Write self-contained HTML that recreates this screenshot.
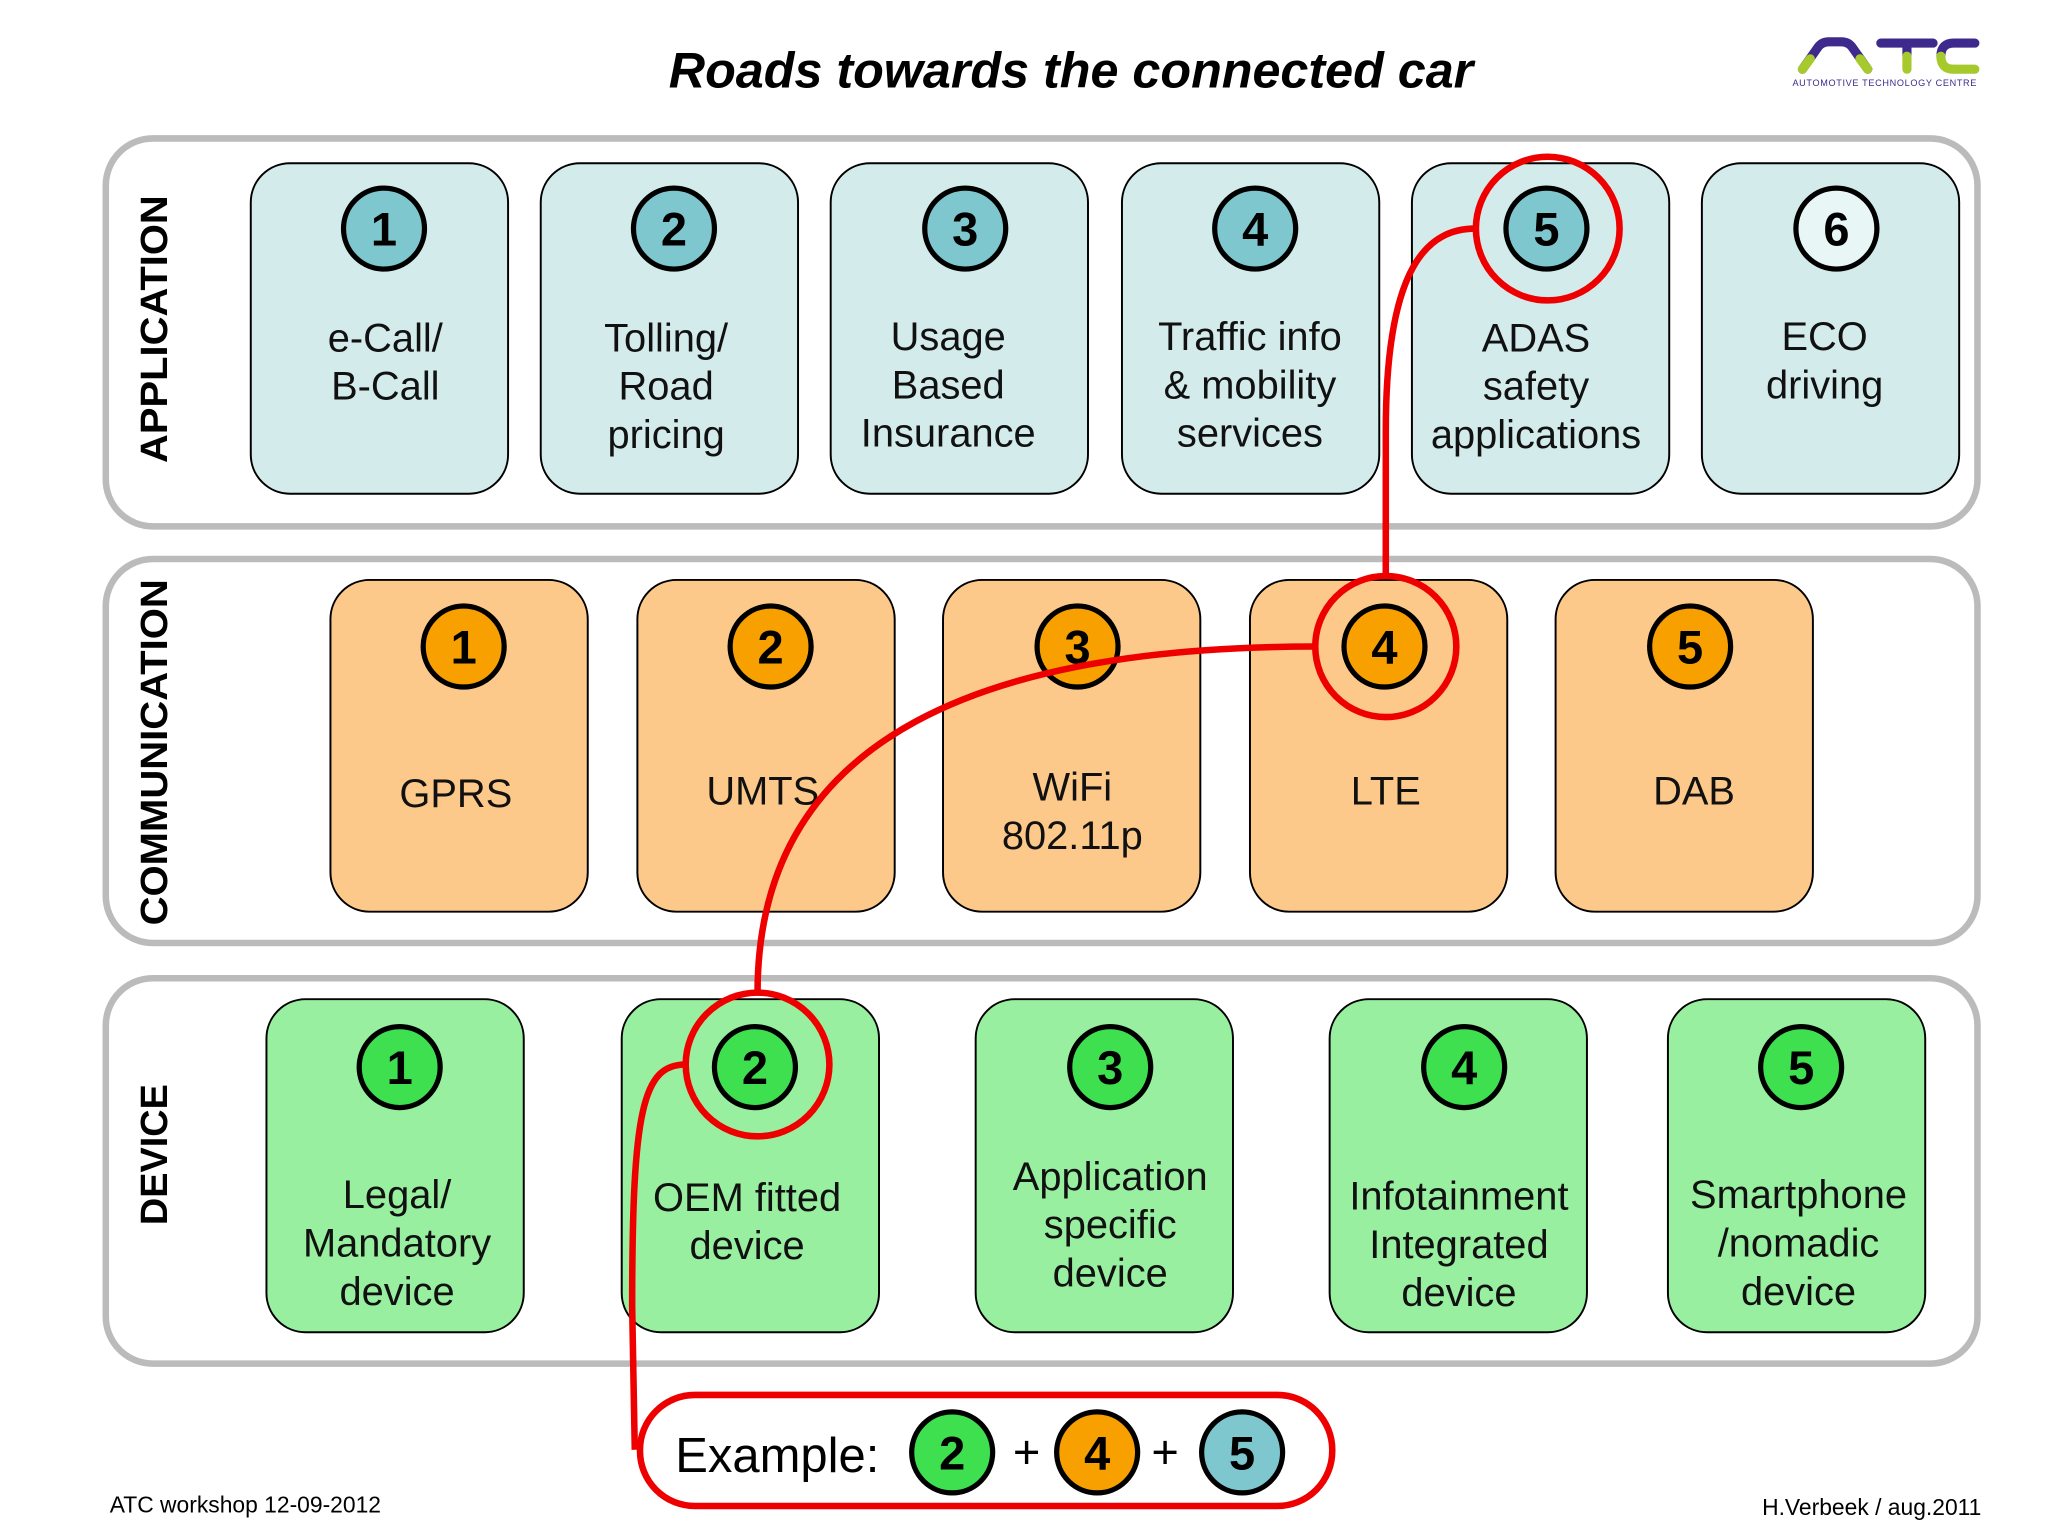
<!DOCTYPE html>
<html><head><meta charset="utf-8"><style>html,body{margin:0;padding:0;background:#fff}svg{display:block}</style></head>
<body>
<svg width="2048" height="1536" viewBox="0 0 1568 1176" xmlns="http://www.w3.org/2000/svg" font-family="Liberation Sans, Arial, sans-serif">
<rect width="1568" height="1176" fill="#fff"/>
<text x="820" y="67" text-anchor="middle" font-size="38.5" font-weight="bold" font-style="italic">Roads towards the connected car</text>
<!-- logo -->
<g stroke-width="7" fill="none" stroke-linecap="round">
<path d="M1380,53 L1392,36 Q1395,32 1400,32 L1410,32 Q1415,32 1418,36 L1430,53" stroke="#3d2a8c"/>
<path d="M1380,53 L1386,45 M1430,53 L1424,45" stroke="#a6c92c"/>
<path d="M1440,33 L1480,33 M1460,33 L1460,43" stroke="#3d2a8c"/>
<path d="M1460,43 L1460,53" stroke="#a6c92c"/>
<path d="M1512,33 L1496,33 Q1486,33 1486,43" stroke="#3d2a8c"/>
<path d="M1486,43 Q1486,53 1496,53 L1512,53" stroke="#a6c92c"/>
</g>
<text x="1443" y="66" text-anchor="middle" font-size="7" fill="#3d2a8c" letter-spacing="0.5">AUTOMOTIVE TECHNOLOGY CENTRE</text>

<g fill="#fff" stroke="#bbbbbb" stroke-width="5">
<rect x="81" y="106" width="1433" height="297" rx="36"/>
<rect x="81" y="428" width="1433" height="294" rx="36"/>
<rect x="81" y="749" width="1433" height="295" rx="36"/>
</g>
<g font-size="29" font-weight="bold">
<text transform="translate(128,252) rotate(-90)" text-anchor="middle" textLength="205" lengthAdjust="spacingAndGlyphs">APPLICATION</text>
<text transform="translate(128,576) rotate(-90)" text-anchor="middle" textLength="265" lengthAdjust="spacingAndGlyphs">COMMUNICATION</text>
<text transform="translate(128,884) rotate(-90)" text-anchor="middle">DEVICE</text>
</g>

<g stroke="#000" stroke-width="1.5">
<g fill="#d3ebeb">
<rect x="192" y="125" width="197" height="253" rx="30"/>
<rect x="414" y="125" width="197" height="253" rx="30"/>
<rect x="636" y="125" width="197" height="253" rx="30"/>
<rect x="859" y="125" width="197" height="253" rx="30"/>
<rect x="1081" y="125" width="197" height="253" rx="30"/>
<rect x="1303" y="125" width="197" height="253" rx="30"/>
</g>
<g fill="#fdc98a">
<rect x="253" y="444" width="197" height="254" rx="30"/>
<rect x="488" y="444" width="197" height="254" rx="30"/>
<rect x="722" y="444" width="197" height="254" rx="30"/>
<rect x="957" y="444" width="197" height="254" rx="30"/>
<rect x="1191" y="444" width="197" height="254" rx="30"/>
</g>
<g fill="#98ef9f">
<rect x="204" y="765" width="197" height="255" rx="30"/>
<rect x="476" y="765" width="197" height="255" rx="30"/>
<rect x="747" y="765" width="197" height="255" rx="30"/>
<rect x="1018" y="765" width="197" height="255" rx="30"/>
<rect x="1277" y="765" width="197" height="255" rx="30"/>
</g>
</g>
<g stroke="#000" stroke-width="4">
<g fill="#7fc7cf">
<circle cx="294" cy="175" r="31"/><circle cx="516" cy="175" r="31"/><circle cx="739" cy="175" r="31"/><circle cx="961" cy="175" r="31"/><circle cx="1184" cy="175" r="31"/>
<circle cx="1406" cy="175" r="31" fill="#e8f6f6"/>
</g>
<g fill="#f7a000">
<circle cx="355" cy="495" r="31"/><circle cx="590" cy="495" r="31"/><circle cx="825" cy="495" r="31"/><circle cx="1060" cy="495" r="31"/><circle cx="1294" cy="495" r="31"/>
</g>
<g fill="#3ee050">
<circle cx="306" cy="817" r="31"/><circle cx="578" cy="817" r="31"/><circle cx="850" cy="817" r="31"/><circle cx="1121" cy="817" r="31"/><circle cx="1379" cy="817" r="31"/>
</g>
</g>
<g font-size="36" font-weight="bold" text-anchor="middle">
<text x="294" y="188">1</text><text x="516" y="188">2</text><text x="739" y="188">3</text><text x="961" y="188">4</text><text x="1184" y="188">5</text><text x="1406" y="188">6</text>
<text x="355" y="508">1</text><text x="590" y="508">2</text><text x="825" y="508">3</text><text x="1060" y="508">4</text><text x="1294" y="508">5</text>
<text x="306" y="830">1</text><text x="578" y="830">2</text><text x="850" y="830">3</text><text x="1121" y="830">4</text><text x="1379" y="830">5</text>
</g>
<g font-size="30.5" text-anchor="middle" fill="#111">
<text x="295" y="269">e-Call/</text><text x="295" y="306">B-Call</text>
<text x="510" y="269">Tolling/</text><text x="510" y="306">Road</text><text x="510" y="343">pricing</text>
<text x="726" y="268">Usage</text><text x="726" y="305">Based</text><text x="726" y="342">Insurance</text>
<text x="957" y="268">Traffic info</text><text x="957" y="305">&amp; mobility</text><text x="957" y="342">services</text>
<text x="1176" y="269">ADAS</text><text x="1176" y="306">safety</text><text x="1176" y="343">applications</text>
<text x="1397" y="268">ECO</text><text x="1397" y="305">driving</text>
<text x="349" y="618">GPRS</text>
<text x="584" y="616">UMTS</text>
<text x="821" y="613">WiFi</text><text x="821" y="650">802.11p</text>
<text x="1061" y="616">LTE</text>
<text x="1297" y="616">DAB</text>
<text x="304" y="925">Legal/</text><text x="304" y="962">Mandatory</text><text x="304" y="999">device</text>
<text x="572" y="927">OEM fitted</text><text x="572" y="964">device</text>
<text x="850" y="911">Application</text><text x="850" y="948">specific</text><text x="850" y="985">device</text>
<text x="1117" y="926">Infotainment</text><text x="1117" y="963">Integrated</text><text x="1117" y="1000">device</text>
<text x="1377" y="925">Smartphone</text><text x="1377" y="962">/nomadic</text><text x="1377" y="999">device</text>
</g>
<g fill="none" stroke="#ee0000" stroke-width="5">
<circle cx="1185" cy="175" r="55"/>
<circle cx="1061" cy="495" r="54"/>
<circle cx="580" cy="815" r="55"/>
<path d="M1061,441 L1061,330 C1061,200 1095,175 1130,175"/>
<path d="M1007,495 C760,495 580,560 580,760"/>
<path d="M525,815 C492,815 484,850 484,1000 L486,1110"/>
<rect x="490" y="1068" width="530" height="85" rx="42"/>
</g>
<text x="517" y="1127" font-size="37.5">Example:</text>
<g stroke="#000" stroke-width="4">
<circle cx="729" cy="1112" r="31" fill="#3ee050"/>
<circle cx="840" cy="1112" r="31" fill="#f7a000"/>
<circle cx="951" cy="1112" r="31" fill="#7fc7cf"/>
</g>
<g font-size="36" font-weight="bold" text-anchor="middle">
<text x="729" y="1125">2</text><text x="840" y="1125">4</text><text x="951" y="1125">5</text>
<text x="786" y="1124" font-weight="normal">+</text><text x="892" y="1124" font-weight="normal">+</text>
</g>
<text x="84" y="1158" font-size="17.5">ATC workshop 12-09-2012</text>
<text x="1517" y="1160" font-size="17.5" text-anchor="end">H.Verbeek / aug.2011</text>
</svg>
</body></html>
